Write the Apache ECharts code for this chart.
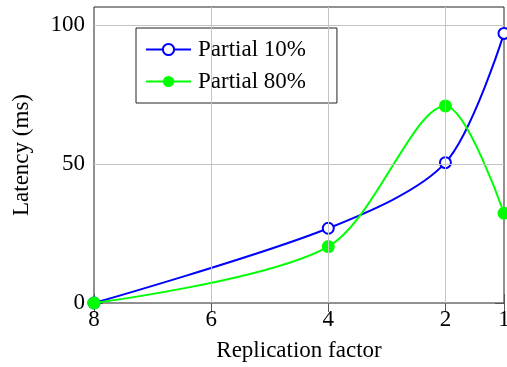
<!DOCTYPE html>
<html>
<head>
<meta charset="utf-8">
<script src="https://cdn.jsdelivr.net/npm/echarts@6/dist/echarts.min.js"></script>
<style>html,body{margin:0;padding:0;background:#fff;}#c{width:507px;height:367px;}</style>
</head>
<body>
<div id="c"></div>
<script>
const xValues = [8, 4, 2, 1];
const partial10 = [0, 26.9, 50.5, 97.0];
const partial80 = [0, 20.3, 70.9, 32.3];
const xTicks = [8, 6, 4, 2, 1];
const yTicks = [0, 50, 100];
const xGridLines = [6, 4, 2];
const yGridLines = [50, 100];
const seriesNames = ['Partial 10%', 'Partial 80%'];

const FONT = 'Liberation Serif';
const FS = 23;
const chart = echarts.init(document.getElementById('c'), null, {renderer: 'canvas'});

const tickStyle = {show: true, inside: true, length: 9, lineStyle: {color: '#555', width: 1}};
const xAxisBase = {type: 'value', min: 1, max: 8, inverse: true,
  axisLine: {show: false}, splitLine: {show: false}};
const yAxisBase = {type: 'value', min: 0, max: 106.5,
  axisLine: {show: false}, splitLine: {show: false}};

const option = {
  animation: false,
  backgroundColor: '#fff',
  grid: {left: 94, right: 3, top: 7, bottom: 64, outerBoundsMode: 'none', containLabel: false,
    show: true, borderColor: '#222', borderWidth: 1, backgroundColor: 'transparent'},
  legend: {
    left: 136, top: 28, orient: 'vertical',
    padding: [10, 31, 10, 9],
    itemGap: 9, itemWidth: 45, itemHeight: 14,
    borderColor: '#222', borderWidth: 1, backgroundColor: '#fff',
    textStyle: {fontFamily: FONT, fontSize: FS, color: '#000', padding: [0, 0, 0, 2]},
    data: seriesNames
  },
  xAxis: [
    Object.assign({}, xAxisBase, {position: 'bottom',
      name: 'Replication factor', nameLocation: 'middle', nameGap: 36,
      nameTextStyle: {fontFamily: FONT, fontSize: FS, color: '#000'},
      axisTick: Object.assign({customValues: xTicks}, tickStyle),
      axisLabel: {customValues: xTicks, fontFamily: FONT, fontSize: FS, color: '#000', margin: 5}}),
    Object.assign({}, xAxisBase, {position: 'top',
      axisTick: Object.assign({customValues: xTicks}, tickStyle),
      axisLabel: {show: false}})
  ],
  yAxis: [
    Object.assign({}, yAxisBase, {position: 'left',
      name: 'Latency (ms)', nameLocation: 'middle', nameGap: 61, nameRotate: 90,
      nameTextStyle: {fontFamily: FONT, fontSize: FS, color: '#000'},
      axisTick: Object.assign({customValues: yTicks}, tickStyle),
      axisLabel: {customValues: yTicks, fontFamily: FONT, fontSize: FS, color: '#000', margin: 9}}),
    Object.assign({}, yAxisBase, {position: 'right',
      axisTick: Object.assign({customValues: yTicks}, tickStyle),
      axisLabel: {show: false}})
  ],
  series: [
    {
      name: '__grid', type: 'line', data: [], z: 1, silent: true,
      markLine: {
        silent: true, symbol: ['none', 'none'], label: {show: false},
        lineStyle: {color: '#c4c4c4', width: 1, type: 'solid'},
        emphasis: {disabled: true},
        data: xGridLines.map(v => ({xAxis: v})).concat(yGridLines.map(v => ({yAxis: v})))
      }
    },
    {
      name: seriesNames[0], type: 'line', z: 3,
      data: xValues.map((x, i) => [x, partial10[i]]),
      smooth: 0.3,
      symbol: 'emptyCircle', symbolSize: 11,
      lineStyle: {color: '#0000ff', width: 2},
      itemStyle: {color: '#0000ff', borderColor: '#0000ff', borderWidth: 2},
      emphasis: {disabled: true}
    },
    {
      name: seriesNames[1], type: 'line', z: 4,
      data: xValues.map((x, i) => [x, partial80[i]]),
      smooth: 0.3,
      symbol: 'circle', symbolSize: 13,
      lineStyle: {color: '#00ff00', width: 2},
      itemStyle: {color: '#00ff00'},
      emphasis: {disabled: true}
    }
  ]
};
chart.setOption(option);
</script>
</body>
</html>
